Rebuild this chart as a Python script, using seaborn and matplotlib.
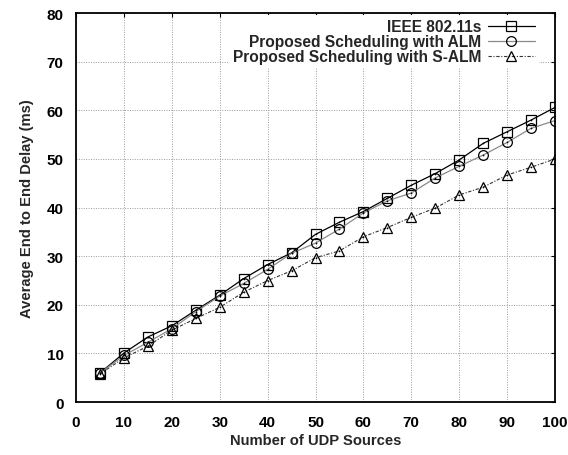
import matplotlib
matplotlib.use("Agg")
import matplotlib.pyplot as plt
import seaborn as sns
import pandas as pd

# Number of UDP sources
sources = [5, 10, 15, 20, 25, 30, 35, 40, 45, 50, 55, 60, 65, 70, 75, 80, 85, 90, 95, 100]

# Average end-to-end delay (ms)
ieee_80211s = [6.0, 10.1, 13.4, 15.7, 18.9, 22.0, 25.4, 28.3, 30.7, 34.5, 37.0, 39.2, 41.9, 44.6, 47.0, 49.8, 53.2, 55.6, 58.0, 60.6]
alm = [6.0, 9.6, 12.3, 15.1, 18.6, 21.8, 24.4, 27.3, 30.6, 32.7, 35.6, 38.9, 41.4, 43.0, 46.1, 48.5, 50.8, 53.4, 56.3, 57.9]
s_alm = [5.8, 9.1, 11.5, 14.8, 17.2, 19.5, 22.6, 25.0, 27.0, 29.7, 31.1, 34.0, 35.9, 38.0, 39.9, 42.6, 44.2, 46.7, 48.3, 50.0]

labels = ["IEEE 802.11s", "Proposed Scheduling with ALM", "Proposed Scheduling with S-ALM"]
x_ticks = [0, 10, 20, 30, 40, 50, 60, 70, 80, 90, 100]
y_ticks = [0, 10, 20, 30, 40, 50, 60, 70, 80]

sns.set_theme(style="white")
plt.rcParams["font.family"] = ["Liberation Sans", "DejaVu Sans"]
plt.rcParams["font.weight"] = "bold"

fig = plt.figure(figsize=(5.68, 4.56), dpi=100)
ax = fig.add_axes([0.134, 0.116, 0.843, 0.853])

styles = [
    dict(color="black", linestyle="-", marker="s", lw=0.9),
    dict(color="#8a8a8a", linestyle="-", marker="o", lw=0.9),
    dict(color="#333333", linestyle=(0, (3, 1.5, 1, 1.5)), marker="^", lw=0.8),
]

for vals, lab, st in zip([ieee_80211s, alm, s_alm], labels, styles):
    df = pd.DataFrame({"x": sources, "y": vals})
    sns.lineplot(data=df, x="x", y="y", ax=ax, label=lab,
                 color=st["color"], linestyle=st["linestyle"], linewidth=st["lw"],
                 marker=st["marker"], markersize=7, markerfacecolor="none",
                 markeredgecolor="black", markeredgewidth=0.9)
    # small dot at each data point
    sns.scatterplot(data=df, x="x", y="y", ax=ax, color="black", s=1.5,
                    linewidth=0, legend=False, zorder=5)

ax.set_xlim(0, 100)
ax.set_ylim(0, 80)
ax.set_xticks(x_ticks)
ax.set_yticks(y_ticks)
ax.tick_params(axis="both", direction="in", length=3, width=0.8, labelsize=11,
               top=True, right=True, pad=9, colors="black")
for lbl in ax.get_xticklabels() + ax.get_yticklabels():
    lbl.set_fontweight("bold")

ax.grid(True, color="#999999", linestyle=(0, (1, 1.5)), linewidth=0.7)
for sp in ax.spines.values():
    sp.set_color("black")
    sp.set_linewidth(1.3)
    sp.set_zorder(10)

ax.set_xlabel("Number of UDP Sources", fontsize=10.6, fontweight="bold", labelpad=3)
ax.set_ylabel("Average End to End Delay (ms)", fontsize=10.6, fontweight="bold", labelpad=9)

leg = ax.legend(loc="upper right", bbox_to_anchor=(0.966, 0.994), frameon=True,
                markerfirst=False, fontsize=11.2, handlelength=3.0,
                handletextpad=0.45, labelspacing=0.0,
                borderaxespad=0.0, borderpad=0.25)
leg.get_frame().set_facecolor("white")
leg.get_frame().set_edgecolor("none")
leg.get_frame().set_alpha(1.0)
for t in leg.get_texts():
    t.set_fontweight("bold")

fig.savefig("out.png", dpi=100)
